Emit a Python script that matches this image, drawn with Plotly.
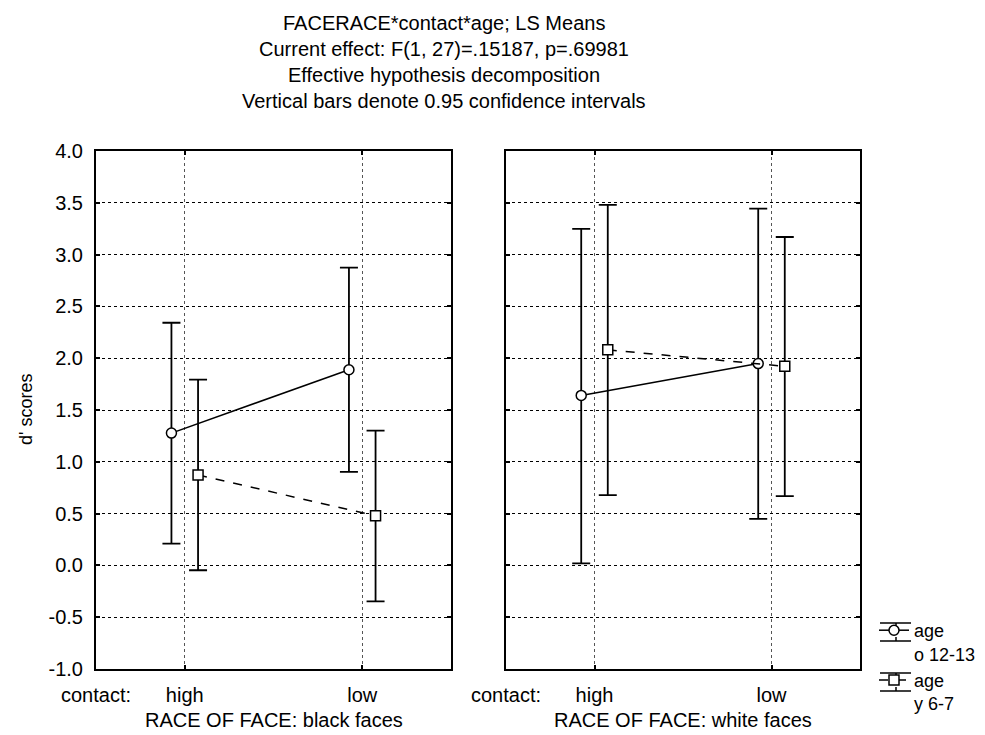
import plotly.graph_objects as go

# ---- data ----
contact = ["high", "low"]
panels = ["black faces", "white faces"]

o_mean_black = [1.277, 1.889]
o_up_black = [2.342, 2.875]
o_lo_black = [0.211, 0.903]
y_mean_black = [0.873, 0.479]
y_up_black = [1.793, 1.300]
y_lo_black = [-0.047, -0.348]

o_mean_white = [1.641, 1.948]
o_up_white = [3.249, 3.444]
o_lo_white = [0.02, 0.449]
y_mean_white = [2.081, 1.922]
y_up_white = [3.480, 3.170]
y_lo_white = [0.678, 0.668]

y_ticks = [-1.0, -0.5, 0.0, 0.5, 1.0, 1.5, 2.0, 2.5, 3.0, 3.5, 4.0]
y_ticktext = ["%.1f" % v for v in y_ticks]

titles = ["FACERACE*contact*age; LS Means",
          "Current effect: F(1, 27)=.15187, p=.69981",
          "Effective hypothesis decomposition",
          "Vertical bars denote 0.95 confidence intervals"]
legend_names = ["age<br>o 12-13", "age<br>y 6-7"]

FONT = "Liberation Sans, Arial, sans-serif"
FS = 20
OFF = 0.075

fig = go.Figure()

def add_series(xa, ya, mean, up, lo, symbol, dash, name, show):
    sign = -1 if symbol == "circle" else 1
    xs = [i + sign * OFF for i in range(len(mean))]
    fig.add_trace(go.Scatter(
        x=xs, y=mean, xaxis=xa, yaxis=ya, mode="lines+markers", name=name,
        showlegend=show, legendgroup=name,
        line=dict(color="black", width=1.5, dash=dash),
        marker=dict(symbol=symbol, size=10, color="white",
                    line=dict(color="black", width=1.5)),
        error_y=dict(type="data", symmetric=False,
                     array=[u - m for u, m in zip(up, mean)],
                     arrayminus=[m - l for m, l in zip(mean, lo)],
                     color="black", thickness=1.8, width=9),
    ))

add_series("x", "y", o_mean_black, o_up_black, o_lo_black, "circle", "solid", legend_names[0], True)
add_series("x", "y", y_mean_black, y_up_black, y_lo_black, "square", "dash", legend_names[1], True)
add_series("x2", "y2", o_mean_white, o_up_white, o_lo_white, "circle", "solid", legend_names[0], False)
add_series("x2", "y2", y_mean_white, y_up_white, y_lo_white, "square", "dash", legend_names[1], False)

W, H = 985, 735
xd1 = [88 / W, 443 / W]
xd2 = [498 / W, 852 / W]
yd = [1 - 661 / H, 1 - 143 / H]

xcommon = dict(range=[-0.5, 1.5], tickvals=[-0.5, 0, 1], ticktext=["contact:"] + contact,
               showgrid=True, gridcolor="#555", gridwidth=1, griddash="dot",
               showline=True, linecolor="black", linewidth=2, mirror="ticks",
               ticks="inside", ticklen=4, tickwidth=2, tickcolor="black",
               ticklabelstandoff=7, automargin=False,
               zeroline=False, tickfont=dict(family=FONT, size=FS, color="black"),
               fixedrange=True)
ycommon = dict(range=[-1.0, 4.0], tickvals=y_ticks, ticktext=y_ticktext,
               showgrid=True, gridcolor="black", gridwidth=1, griddash="dot",
               showline=True, linecolor="black", linewidth=2, mirror="ticks",
               ticks="inside", ticklen=4, tickwidth=2, tickcolor="black",
               ticklabelstandoff=7, automargin=False,
               zeroline=False, tickfont=dict(family=FONT, size=FS, color="black"),
               fixedrange=True)

fig.update_layout(
    template="none",
    width=W, height=H, margin=dict(l=0, r=0, t=0, b=0, autoexpand=False),
    paper_bgcolor="white", plot_bgcolor="white",
    font=dict(family=FONT, size=FS, color="black"),
    xaxis=dict(domain=xd1, anchor="y", **xcommon),
    xaxis2=dict(domain=xd2, anchor="y2", **xcommon),
    yaxis=dict(domain=yd, anchor="x", **ycommon),
    yaxis2=dict(domain=yd, anchor="x2", showticklabels=False, **ycommon),
    legend=dict(x=866 / W, y=1 - 604 / H, xanchor="left", yanchor="top",
                font=dict(family=FONT, size=18, color="black"),
                bgcolor="rgba(0,0,0,0)", tracegroupgap=0, itemwidth=30,
                valign="top"),
    showlegend=True,
)

# error-bar frame around the legend symbols (Statistica style)
shapes = []
for c in (624, 674):
    for dy in (-9, 9):
        shapes.append(dict(type="line", xref="paper", yref="paper",
                           x0=872 / W, x1=903 / W, y0=1 - (c + dy) / H, y1=1 - (c + dy) / H,
                           line=dict(color="black", width=1.5)))
    for a, b in ((c - 9, c - 5), (c + 5, c + 9)):
        shapes.append(dict(type="line", xref="paper", yref="paper",
                           x0=888 / W, x1=888 / W, y0=1 - a / H, y1=1 - b / H,
                           line=dict(color="black", width=1.5)))
fig.update_layout(shapes=shapes)

ann = []
for i, t in enumerate(titles):
    ann.append(dict(text=t, x=436 / W, y=1 - (15 + 26 * i) / H, xref="paper", yref="paper",
                    xanchor="center", yanchor="middle", showarrow=False,
                    font=dict(family=FONT, size=FS, color="black")))
ann.append(dict(text="d' scores", x=18 / W, y=1 - 402 / H, xref="paper", yref="paper",
                textangle=-90, showarrow=False, xanchor="center", yanchor="middle",
                font=dict(family=FONT, size=18, color="black")))
ann.append(dict(text="RACE OF FACE: " + panels[0], x=(88 + 443) / 2 / W, y=1 - 712 / H,
                xref="paper", yref="paper", showarrow=False, xanchor="center", yanchor="middle",
                font=dict(family=FONT, size=FS, color="black")))
ann.append(dict(text="RACE OF FACE: " + panels[1], x=(498 + 852) / 2 / W, y=1 - 712 / H,
                xref="paper", yref="paper", showarrow=False, xanchor="center", yanchor="middle",
                font=dict(family=FONT, size=FS, color="black")))
fig.update_layout(annotations=ann)

fig.write_html("out.html")
